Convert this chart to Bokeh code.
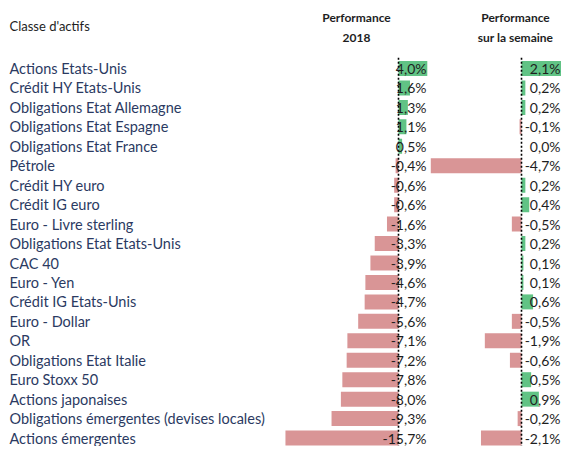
from bokeh.plotting import figure
from bokeh.models import ColumnDataSource, Range1d, Label
from bokeh.core.properties import value
from bokeh.embed import file_html
from bokeh.resources import INLINE

categories = [
    "Actions Etats-Unis", "Crédit HY Etats-Unis", "Obligations Etat Allemagne",
    "Obligations Etat Espagne", "Obligations Etat France", "Pétrole",
    "Crédit HY euro", "Crédit IG euro", "Euro - Livre sterling",
    "Obligations Etat Etats-Unis", "CAC 40", "Euro - Yen", "Crédit IG Etats-Unis",
    "Euro - Dollar", "OR", "Obligations Etat Italie", "Euro Stoxx 50",
    "Actions japonaises", "Obligations émergentes (devises locales)",
    "Actions émergentes",
]
perf_2018 = [4.0, 1.6, 1.3, 1.1, 0.5, -0.4, -0.6, -0.6, -1.6, -3.3, -3.9, -4.6,
             -4.7, -5.6, -7.1, -7.2, -7.8, -8.0, -9.3, -15.7]
perf_week = [2.1, 0.2, 0.2, -0.1, 0.0, -4.7, 0.2, 0.4, -0.5, 0.2, 0.1, 0.1,
             0.6, -0.5, -1.9, -0.6, 0.5, 0.9, -0.2, -2.1]
header_left = "Classe d'actifs"
header_p1 = ["Performance", "2018"]
header_p2 = ["Performance", "sur la semaine"]

GREEN = "#61c385"
RED = "#d99596"
NAVY = "#2b3a62"
INK = "#1e1e1e"
FONT = "Lato"

W, H = 561, 446
ROW = 19.45          # px per row
FIRST = 68           # px from top to first row centre
Z1, S1 = 398, 7.2    # panel 1 zero position (px) and px per %
Z2, S2 = 521, 19.3   # panel 2 zero position (px) and px per %


def fmt(v):
    return f"{v:.1f}%".replace(".", ",")


def colors(vals):
    return [GREEN if v >= 0 else RED for v in vals]


n = len(categories)
rows = list(range(n))

p = figure(width=W, height=H,
           x_range=Range1d(0, W),
           y_range=Range1d((H - FIRST) / ROW, -FIRST / ROW),
           output_backend="svg", toolbar_location=None, min_border=0,
           outline_line_color=None, background_fill_color="white",
           border_fill_color="white")
p.extra_x_ranges = {
    "p1": Range1d(-Z1 / S1, (W - Z1) / S1),
    "p2": Range1d(-Z2 / S2, (W - Z2) / S2),
}
p.axis.visible = False
p.grid.visible = False

# headers
p.add_layout(Label(x=9, y=H - 25, x_units="screen", y_units="screen",
                   text=header_left, text_font=FONT, text_font_size="13px",
                   text_color=INK, text_baseline="middle"))
for i, t in enumerate(header_p1):
    p.add_layout(Label(x=356, y=H - 17 - 20 * i, x_units="screen", y_units="screen",
                       text=t, text_font=FONT, text_font_size="12px",
                       text_font_style="bold", text_color=INK,
                       text_align="center", text_baseline="middle"))
for i, t in enumerate(header_p2):
    p.add_layout(Label(x=515, y=H - 17 - 20 * i, x_units="screen", y_units="screen",
                       text=t, text_font=FONT, text_font_size="12px",
                       text_font_style="bold", text_color=INK,
                       text_align="center", text_baseline="middle"))

# category labels
srcL = ColumnDataSource(dict(cat=categories, y=rows, x=[0] * n))
p.text(x="x", y="y", text="cat", source=srcL, x_offset=9,
       text_font=value(FONT), text_font_size="14.5px", text_color=NAVY,
       text_baseline="middle", text_align="left")

top_line = -0.55
bottom_line = (H - FIRST) / ROW

for name, vals, off in (("p1", perf_2018, 28), ("p2", perf_week, 39)):
    src = ColumnDataSource(dict(y=rows, v=vals, c=colors(vals),
                                lab=[fmt(v) for v in vals], z=[0] * n))
    p.hbar(y="y", left=0, right="v", height=0.77, fill_color="c",
           line_color=None, source=src, x_range_name=name)
    p.segment(x0=0, x1=0, y0=top_line, y1=bottom_line, line_color="black",
              line_width=1.6, line_dash="2 2", x_range_name=name)
    p.text(x="z", y="y", text="lab", source=src, x_offset=off,
           text_font=value(FONT), text_font_size="14px", text_color=INK,
           text_baseline="middle", text_align="right", x_range_name=name)

open("out.html", "w").write(file_html(p, INLINE))
